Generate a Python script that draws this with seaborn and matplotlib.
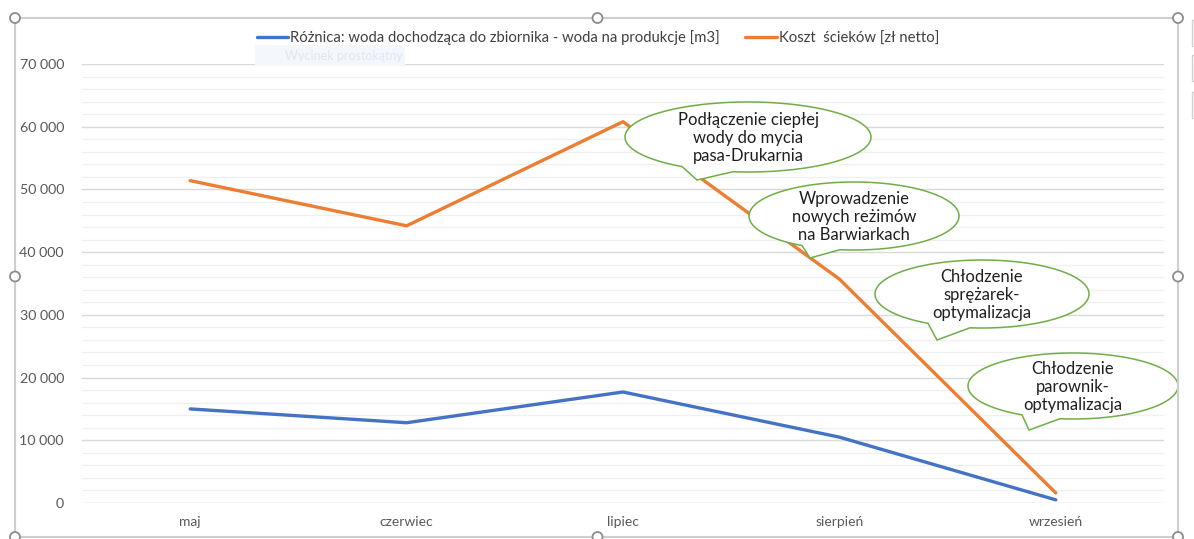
import numpy as np
import pandas as pd
import matplotlib
matplotlib.use("Agg")
import matplotlib.pyplot as plt
import matplotlib.transforms as mtransforms
from matplotlib.patches import Polygon, Circle, Rectangle
from matplotlib.lines import Line2D
from matplotlib.ticker import MultipleLocator, FuncFormatter
import seaborn as sns

# ---------------- data ----------------
months = ["maj", "czerwiec", "lipiec", "sierpień", "wrzesień"]
roznica = [15000, 12800, 17700, 10500, 500]
koszt = [51400, 44200, 60800, 35700, 1600]
series_names = ["Różnica: woda dochodząca do zbiornika - woda na produkcje [m3]",
                "Koszt  ścieków [zł netto]"]
callout_texts = ["Podłączenie ciepłej\nwody do mycia\npasa-Drukarnia",
                 "Wprowadzenie\nnowych reżimów\nna Barwiarkach",
                 "Chłodzenie\nsprężarek-\noptymalizacja",
                 "Chłodzenie\nparownik-\noptymalizacja"]

df = pd.DataFrame({
    "miesiac": months * 2,
    "wartosc": roznica + koszt,
    "seria": [series_names[0]] * len(months) + [series_names[1]] * len(months),
})

# ---------------- style ----------------
sns.set_style("white")
plt.rcParams["font.family"] = ["Lato", "DejaVu Sans"]

W, H = 1194, 539
fig = plt.figure(figsize=(W / 100, H / 100), dpi=100)
ax = fig.add_axes([82 / W, 1 - 503 / H, (1164 - 82) / W, (503 - 64) / H])

palette = {series_names[0]: "#4472C4", series_names[1]: "#ED7D31"}
sns.lineplot(data=df, x="miesiac", y="wartosc", hue="seria", palette=palette,
             linewidth=2.4, sort=False, ax=ax, legend=False, zorder=3)

ax.set_xlim(-0.5, len(months) - 0.5)
ax.set_ylim(0, 70000)
ax.yaxis.set_major_locator(MultipleLocator(10000))
ax.yaxis.set_minor_locator(MultipleLocator(2000))
ax.yaxis.set_major_formatter(FuncFormatter(lambda v, p: f"{int(v):,}".replace(",", " ")))
ax.grid(True, which="major", axis="y", color="#D9D9D9", linewidth=1.0, zorder=0)
ax.grid(True, which="minor", axis="y", color="#F0F0F0", linewidth=1.0, zorder=0)
ax.grid(False, axis="x")
for s in ax.spines.values():
    s.set_visible(False)
ax.tick_params(axis="both", which="both", length=0, labelsize=10, labelcolor="#595959")
ax.tick_params(axis="y", pad=13, labelsize=10.3)
ax.tick_params(axis="x", pad=9)
ax.set_xlabel("")
ax.set_ylabel("")

# legend
handles = [Line2D([], [], color=palette[n], linewidth=2.4) for n in series_names]
fig.legend(handles, series_names, loc="center", bbox_to_anchor=(598 / W, 1 - 38 / H),
           ncol=2, frameon=False, fontsize=10.7, handlelength=2.1, handletextpad=0.15,
           columnspacing=1.7, labelcolor="#404040")

# pixel transform (y down from top)
pix = mtransforms.Affine2D().scale(1, -1).translate(0, H)

# faint tooltip artifact
fig.add_artist(Rectangle((255, 45), 150, 20, transform=pix, facecolor="#F4F7FB",
                         edgecolor="none", zorder=1))
fig.text(285 / W, 1 - 56 / H, "Wycinek prostokątny", fontsize=9, color="#E2E7EF",
         va="center", ha="left")

# ---------------- callouts ----------------
callouts = [
    # cx, cy, a, b, attach x1, attach x2, tip x, tip y
    (748, 137, 123, 35, 682, 733, 697, 180),
    (854, 216, 105, 34, 802, 840, 810, 258),
    (982, 294, 107, 34, 928, 970, 937, 340),
    (1073, 386, 105, 33, 1022, 1060, 1029, 430),
]
for (cx, cy, a, b, x1, x2, tx, ty), txt in zip(callouts, callout_texts):
    t1 = np.arccos((x1 - cx) / a)
    t2 = np.arccos((x2 - cx) / a)
    ts = np.linspace(t1, t2 + 2 * np.pi, 200)
    pts = np.column_stack([cx + a * np.cos(ts), cy + b * np.sin(ts)])
    pts = np.vstack([pts, [tx, ty]])
    fig.add_artist(Polygon(pts, closed=True, transform=pix, facecolor="white",
                           edgecolor="#70AD47", linewidth=1.1, zorder=4))
    fig.text(cx / W, 1 - (cy + 1) / H, txt, ha="center", va="center", fontsize=12,
             color="#1F1F1F", linespacing=1.12, zorder=5)

# ---------------- chart frame with handles ----------------
fl, ft, fr, fb = 15, 18, 1178, 537
frame_col = "#CFCFCF"
for xs, ys in [((fl, fr), (ft, ft)), ((fl, fr), (fb, fb)), ((fl, fl), (ft, fb)), ((fr, fr), (ft, fb))]:
    fig.add_artist(Line2D(xs, ys, transform=pix, color=frame_col, linewidth=1.5, zorder=6))
mx, my = (fl + fr) / 2 + 1, (ft + fb) / 2 - 1
for hx, hy in [(fl, ft), (mx, ft), (fr, ft), (fl, my), (fr, my), (fl, fb), (mx, fb), (fr, fb)]:
    fig.add_artist(Circle((hx, hy), 5, transform=pix, facecolor="white",
                          edgecolor="#8C8C8C", linewidth=1.3, zorder=7))
for y0 in (20, 55, 92):
    fig.add_artist(Rectangle((1192, y0), 10, 26, transform=pix, facecolor="white",
                             edgecolor="#D0D0D0", linewidth=1.0, zorder=6))

fig.savefig("out.png", dpi=100)
